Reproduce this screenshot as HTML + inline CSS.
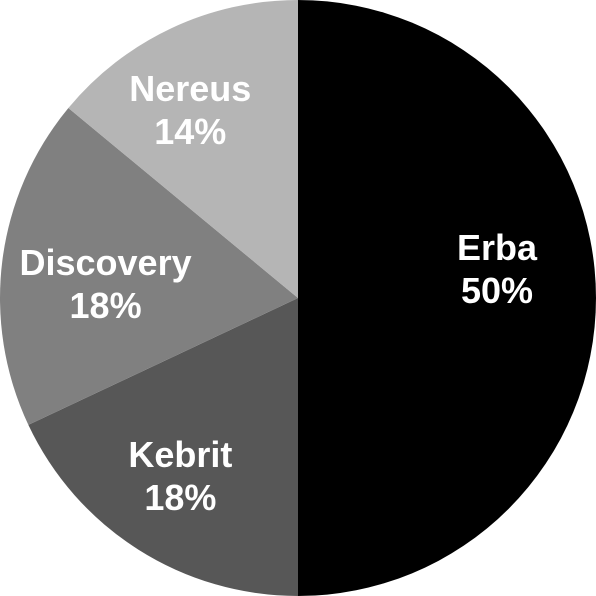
<!DOCTYPE html>
<html><head><meta charset="utf-8"><style>
html,body{margin:0;padding:0;background:#fff;}
svg{display:block;}
text{font-family:"Liberation Sans",sans-serif;font-weight:bold;font-size:36px;fill:#fff;text-anchor:middle;}
</style></head><body>
<svg id="chart" width="596" height="596"></svg>
<script>
const categories = ["Erba","Kebrit","Discovery","Nereus"];
const values = [50,18,18,14];
const colors = ["#000000","#575757","#808080","#b5b5b5"];
const nudgeX = [0,-11,5,-23];
const nudgeY = [-38,1,2,-17];
const svg = document.getElementById('chart');
const NS = "http://www.w3.org/2000/svg";
const cx=298, cy=298, R=298, LR=199;
const total = values.reduce((a,b)=>a+b,0);
let acc=0;
function pt(a,r){return [cx+r*Math.sin(a), cy-r*Math.cos(a)];}
values.forEach((v,i)=>{
  const a0=acc/total*2*Math.PI; acc+=v; const a1=acc/total*2*Math.PI;
  const p0=pt(a0,R), p1=pt(a1,R);
  const large=(a1-a0)>Math.PI?1:0;
  const path=document.createElementNS(NS,'path');
  path.setAttribute('d',`M${cx},${cy} L${p0[0]},${p0[1]} A${R},${R} 0 ${large} 1 ${p1[0]},${p1[1]} Z`);
  path.setAttribute('fill',colors[i]);
  
  
  svg.appendChild(path);
});
acc=0;
values.forEach((v,i)=>{
  const am=(acc+v/2)/total*2*Math.PI; acc+=v;
  const p=pt(am,LR);
  const x=p[0]+nudgeX[i], y=p[1]+nudgeY[i];
  const t=document.createElementNS(NS,'text');
  t.setAttribute('x',x); t.setAttribute('y',y);
  t.textContent=categories[i];
  
  
  svg.appendChild(t);
  const t2=document.createElementNS(NS,'text');
  t2.setAttribute('x',x); t2.setAttribute('y',y+43);
  t2.textContent=v+'%';
  
  
  svg.appendChild(t2);
});
</script>
</body></html>
